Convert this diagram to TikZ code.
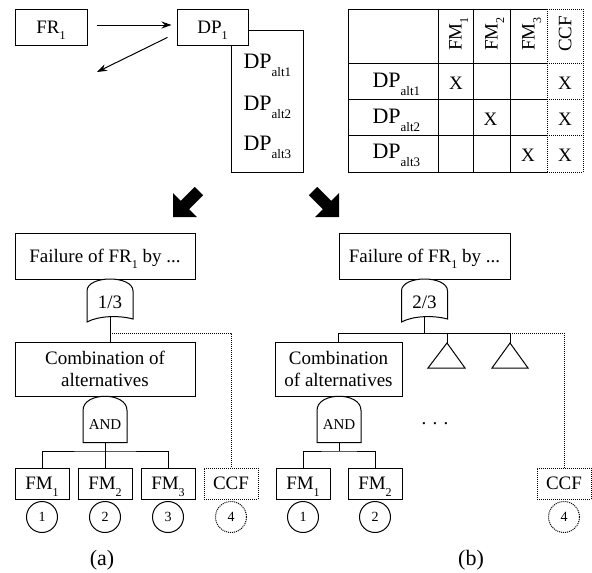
\documentclass[tikz,border=0pt]{standalone}
\usepackage{fontspec}
\setmainfont{Liberation Serif}
\usetikzlibrary{arrows.meta}
\newcommand{\sbs}[1]{\raisebox{-6.5pt}{\fontsize{12}{12}\selectfont #1}}
\newcommand{\dpalt}[1]{{\fontsize{22}{24}\selectfont DP\raisebox{-8pt}{\fontsize{13}{13}\selectfont alt#1}}}

\begin{document}
\begin{tikzpicture}[x=1pt,y=-1pt,>={Stealth[length=10pt,width=7pt]},
  font=\fontsize{19}{22}\selectfont,line width=1pt,
  box/.style={draw,fill=white,inner sep=0pt,text height=12.6pt,text depth=0pt},
  fmbox/.style={box,minimum width=54,minimum height=31},
  ccfbox/.style={fmbox,densely dotted},
  num/.style={draw,circle,inner sep=0pt,minimum size=31,font=\fontsize{14}{14}\selectfont},
  votegate/.pic={
    \draw[fill=white] (-23,21) -- (-23,-10) .. controls (-23,-26) and (23,-26) .. (23,-10)
      -- (23,18) .. controls (8,14) and (-12,15) .. (-23,21) -- cycle;
    \node at (0,1) {#1};
    \coordinate (-out) at (0,16);
  },
  andgate/.pic={
    \draw[fill=white] (-22,23) -- (-22,-9) .. controls (-22,-28) and (22,-28) .. (22,-9)
      -- (22,23) -- cycle;
    \node[font=\fontsize{15}{15}\selectfont] at (0,5) {AND};
    \coordinate (-out) at (0,23);
  }]
\useasboundingbox (0,0) rectangle (592,573);

% design parameters
\node[draw,minimum width=72,minimum height=142] (alts) at (267,101) {};
\node[box,minimum width=72,minimum height=36] (fr) at (51,27) {FR\sbs{1}};
\node[box,minimum width=71,minimum height=36] (dp) at (212.5,27) {DP\sbs{1}};
\foreach \i/\y in {1/68,2/110,3/150}
  \node[anchor=base west,inner sep=0pt] (alt\i) at (243,\y) {\dpalt{\i}};
\draw[->,shorten <=9pt,shorten >=5pt] ([yshift=2pt]fr.east) -- ([yshift=2pt]dp.west);
\coordinate (miss) at (97,72);
\draw[->,shorten <=10pt] ([yshift=-6pt]dp.west) -- (miss);

% failure mode table
\foreach \x in {348,438,473,510} \draw (\x,9) -- (\x,172);
\foreach \y in {9,63,99,135,172} \draw (348,\y) -- (547,\y);
\foreach \x in {547,583} \draw[densely dotted] (\x,9) -- (\x,172);
\foreach \y in {9,63,99,135,172} \draw[densely dotted] (547,\y) -- (583,\y);
\foreach \n/\x/\t in {hfm1/455.5/FM\sbs{1},hfm2/491.5/FM\sbs{2},hfm3/528.5/FM\sbs{3},hccf/565/CCF}
  \node[rotate=90,inner sep=0pt,text depth=0pt] (\n) at (\x,34) {\t};
\foreach \i/\y in {1/87,2/123,3/158}
  \node[anchor=base west,inner sep=0pt] (row\i) at (372,\y) {\dpalt{\i}};
\foreach \n/\x/\y in {x11/456/83,x14/565/83,x22/490.5/119,x24/565/119,x33/528/155,x34/565/155}
  \node (\n) at (\x,\y) {X};

% big arrows
\fill (173,217) -- (173,193) -- (180.8,200.8) -- (194.8,186.8) -- (203.2,195.2) -- (189.2,209.2) -- (197,217) -- cycle;
\fill (339,217) -- (339,193) -- (331.2,200.8) -- (317.2,186.8) -- (308.8,195.2) -- (322.8,209.2) -- (315,217) -- cycle;

% tree (a)
\node[box,minimum width=180,minimum height=46] (fa) at (105,256) {Failure of FR\sbs{1} by ...};
\pic (va) at (110,301) {votegate={1/3}};
\node[draw,minimum width=180,minimum height=54,align=center,inner sep=0pt] (ca) at (105,369) {Combination of\\alternatives};
\pic (aa) at (105,419.5) {andgate};
\foreach \n/\x/\t in {fma1/42/FM\sbs{1},fma2/105/FM\sbs{2},fma3/168/FM\sbs{3}}
  \node[fmbox] (\n) at (\x,483.5) {\t};
\node[ccfbox] (ccfa) at (231,483.5) {CCF};
\foreach \n/\x/\t in {na1/42/1,na2/105/2,na3/168/3}
  \node[num] (\n) at (\x,517) {\t};
\node[num,densely dotted] (na4) at (231,517) {4};
\draw (va-out) -- (va-out |- ca.north);
\draw[densely dotted] (va-out |- 0,333) -| (ccfa.north);
\draw (aa-out) -- (fma2.north);
\draw (fma1.north) |- (aa-out |- 0,451) -| (fma3.north);
\node[font=\fontsize{22}{22}\selectfont] (capa) at (102,560) {(a)};

% tree (b)
\node[box,minimum width=171,minimum height=46] (fb) at (424.5,256) {Failure of FR\sbs{1} by ...};
\pic (vb) at (424.5,301) {votegate={2/3}};
\node[draw,minimum width=127,minimum height=54,align=center,inner sep=0pt] (cb) at (338.5,369) {Combination\\of alternatives};
\coordinate (t1) at (447,343);
\coordinate (t2) at (510,343);
\draw (t1) -- ++(18,25) -- ++(-37,0) -- cycle;
\draw (t2) -- ++(18,25) -- ++(-36,0) -- cycle;
\draw (vb-out) -- (vb-out |- 0,333);
\draw (cb.north) |- (t2 |- 0,333) -- (t2);
\draw (t1 |- 0,333) -- (t1);
\pic (ab) at (339,419.5) {andgate};
\foreach \n/\x/\t in {fmb1/303/FM\sbs{1},fmb2/375/FM\sbs{2}}
  \node[fmbox] (\n) at (\x,483.5) {\t};
\node[ccfbox] (ccfb) at (564,483.5) {CCF};
\foreach \n/\x/\t in {nb1/303/1,nb2/375/2}
  \node[num] (\n) at (\x,517) {\t};
\node[num,densely dotted] (nb4) at (564,517) {4};
\draw[densely dotted] (t2 |- 0,333) -| (ccfb.north);
\draw (ab-out) -- (ab-out |- 0,451);
\draw (fmb1.north) |- (ab-out |- 0,451) -| (fmb2.north);
\node[anchor=base] (more) at (435,424) {. . .};
\node[font=\fontsize{22}{22}\selectfont] (capb) at (471,560) {(b)};
\end{tikzpicture}
\end{document}
